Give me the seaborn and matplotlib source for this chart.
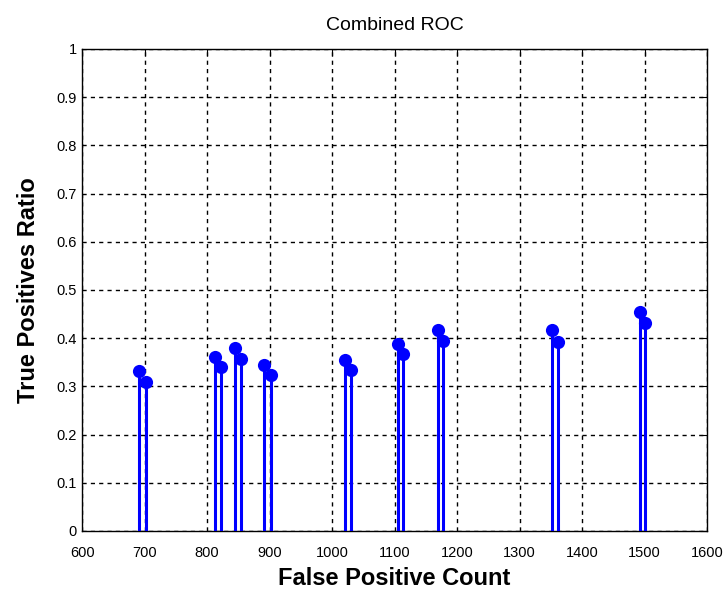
import matplotlib
matplotlib.use("Agg")
import matplotlib.pyplot as plt
import seaborn as sns
import pandas as pd

fp_count = [691, 702, 813, 823, 845, 855, 891, 902, 1020, 1030,
            1105, 1114, 1169, 1178, 1352, 1361, 1492, 1501]
tp_ratio = [0.331, 0.310, 0.360, 0.340, 0.380, 0.357, 0.344, 0.323, 0.354, 0.333,
            0.388, 0.368, 0.417, 0.395, 0.417, 0.393, 0.454, 0.431]
x_ticks = [600, 700, 800, 900, 1000, 1100, 1200, 1300, 1400, 1500, 1600]
y_ticks = [0, 0.1, 0.2, 0.3, 0.4, 0.5, 0.6, 0.7, 0.8, 0.9, 1]
y_tick_labels = ["0", "0.1", "0.2", "0.3", "0.4", "0.5", "0.6", "0.7", "0.8", "0.9", "1"]

sns.set_style("white")
plt.rcParams['font.family'] = ['Liberation Sans', 'DejaVu Sans']
plt.rcParams['text.color'] = 'black'
plt.rcParams['axes.labelcolor'] = 'black'

df = pd.DataFrame({"fp": fp_count, "tp": tp_ratio})

fig = plt.figure(figsize=(7.27, 5.90), dpi=100)
ax = fig.add_axes([0.113, 0.1, 0.8595, 0.817])

ax.vlines(df["fp"], 0, df["tp"], colors="#0000ff", linewidth=2.2, zorder=3)
sns.scatterplot(data=df, x="fp", y="tp", ax=ax, color="#0000ff", s=90,
                edgecolor="#0000ff", linewidth=0, zorder=4, legend=False)

ax.set_xlim(600, 1600)
ax.set_ylim(0, 1)
ax.set_xticks(x_ticks)
ax.set_yticks(y_ticks)
ax.set_xticklabels([str(t) for t in x_ticks])
ax.set_yticklabels(y_tick_labels)
ax.grid(True, color="black", linestyle=(0, (3, 3)), linewidth=1.0)
ax.tick_params(direction="in", length=5, labelsize=10.5, colors="black",
               top=True, right=True)
ax.tick_params(axis="x", pad=11)
ax.tick_params(axis="y", pad=4)
for s in ax.spines.values():
    s.set_color("black")
    s.set_linewidth(1.0)

ax.set_title("Combined ROC", fontsize=14, pad=14, color="black")
ax.set_xlabel("False Positive Count", fontsize=17, fontweight="bold", labelpad=5)
ax.set_ylabel("True Positives Ratio", fontsize=17, fontweight="bold", labelpad=12)

fig.savefig("out.png", dpi=100)
